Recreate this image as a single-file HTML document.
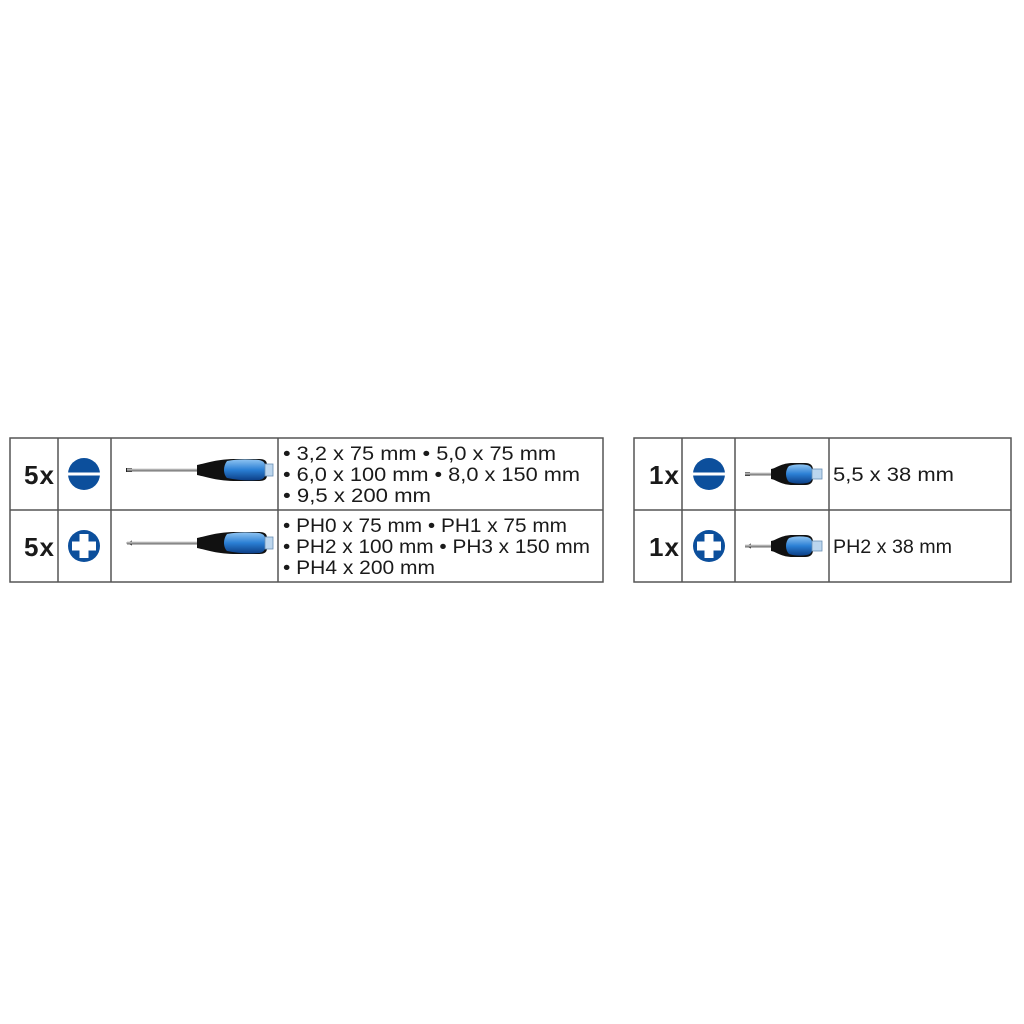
<!DOCTYPE html>
<html><head><meta charset="utf-8"><style>
html,body{margin:0;padding:0;background:#fff;}
svg{display:block;}
text{font-family:"Liberation Sans",sans-serif;fill:#1a1a1a;}
</style></head><body>
<svg width="1024" height="1024" viewBox="0 0 1024 1024" xmlns="http://www.w3.org/2000/svg">
<defs>
<linearGradient id="bl" x1="0" y1="0" x2="0" y2="1"><stop offset="0" stop-color="#8fc4f2"/><stop offset="0.5" stop-color="#2b7fd4"/><stop offset="1" stop-color="#0c3f86"/></linearGradient>
<linearGradient id="st" x1="0" y1="0" x2="0" y2="1"><stop offset="0" stop-color="#ddd"/><stop offset="0.5" stop-color="#999"/><stop offset="1" stop-color="#666"/></linearGradient>
<g id="sd">
<rect x="0" y="-1.5" width="72" height="3" fill="url(#st)"/>
<path d="M70,-5 C80,-7 90,-11 110,-11 L132,-11 C138,-11 140,-9 140,-5 L140,5 C140,9 138,11 132,11 L110,11 C90,11 80,7 70,5 Z" fill="#111"/>
<path d="M100,-9 C110,-11 120,-11 132,-10 C137,-9 138,-7 138,-4 L138,4 C138,7 137,9 132,10 C120,11 110,10 100,8 C96,4 96,-4 100,-9 Z" fill="url(#bl)"/>
<rect x="138" y="-6" width="8" height="12" fill="#bcd6ee" stroke="#6a8fb5" stroke-width="0.8"/>
</g>
<g id="sds">
<rect x="0" y="-1.5" width="28" height="3" fill="url(#st)"/>
<path d="M26,-5 C32,-6 36,-11 48,-11 L60,-11 C66,-11 68,-8 68,-4 L68,4 C68,8 66,11 60,11 L48,11 C36,11 32,6 26,5 Z" fill="#111"/>
<path d="M44,-8 C50,-10 56,-10 62,-9 C66,-8 67,-6 67,-3 L67,3 C67,6 66,8 62,9 C56,10 50,10 44,8 C40,4 40,-4 44,-8 Z" fill="url(#bl)"/>
<rect x="67" y="-5" width="10" height="10" fill="#bcd6ee" stroke="#6a8fb5" stroke-width="0.8"/>
</g>
</defs>
<g fill="none" stroke="#555" stroke-width="1.5">
<rect x="10" y="438" width="593" height="144"/>
<line x1="10" y1="510" x2="603" y2="510"/>
<line x1="58" y1="438" x2="58" y2="582"/>
<line x1="111" y1="438" x2="111" y2="582"/>
<line x1="278" y1="438" x2="278" y2="582"/>
<rect x="634" y="438" width="377" height="144"/>
<line x1="634" y1="510" x2="1011" y2="510"/>
<line x1="682" y1="438" x2="682" y2="582"/>
<line x1="735" y1="438" x2="735" y2="582"/>
<line x1="829" y1="438" x2="829" y2="582"/>
</g>
<g font-weight="bold" font-size="26">
<text x="24" y="484" textLength="30">5x</text><text x="24" y="556" textLength="30">5x</text>
<text x="649" y="484" textLength="30">1x</text><text x="649" y="556" textLength="30">1x</text>
</g>
<g fill="#0c4f9c">
<circle cx="84" cy="474" r="16"/><circle cx="709" cy="474" r="16"/>
<circle cx="84" cy="546" r="16"/><circle cx="709" cy="546" r="16"/>
</g>
<rect x="66" y="472.5" width="36" height="3" fill="#fff"/>
<rect x="691" y="472.5" width="36" height="3" fill="#fff"/>
<path d="M79.5,534 h9 v7.5 h7.5 v9 h-7.5 v7.5 h-9 v-7.5 h-7.5 v-9 h7.5 z" fill="#fff"/>
<path d="M704.5,534 h9 v7.5 h7.5 v9 h-7.5 v7.5 h-9 v-7.5 h-7.5 v-9 h7.5 z" fill="#fff"/>
<rect x="126" y="468" width="6" height="4" fill="#222"/>
<use href="#sd" x="127" y="470"/>
<path d="M126,543 l6,-2.5 v5 z" fill="#222"/>
<use href="#sd" x="127" y="543"/>
<rect x="745" y="472" width="5" height="4" fill="#222"/>
<use href="#sds" x="745" y="474"/>
<path d="M745,546 l6,-2.5 v5 z" fill="#222"/>
<use href="#sds" x="745" y="546"/>
<g font-size="19">
<text x="283" y="460" textLength="273" lengthAdjust="spacingAndGlyphs">• 3,2 x 75 mm • 5,0 x 75 mm</text>
<text x="283" y="481" textLength="297" lengthAdjust="spacingAndGlyphs">• 6,0 x 100 mm • 8,0 x 150 mm</text>
<text x="283" y="502" textLength="148" lengthAdjust="spacingAndGlyphs">• 9,5 x 200 mm</text>
<text x="283" y="532" textLength="284" lengthAdjust="spacingAndGlyphs">• PH0 x 75 mm • PH1 x 75 mm</text>
<text x="283" y="553" textLength="307" lengthAdjust="spacingAndGlyphs">• PH2 x 100 mm • PH3 x 150 mm</text>
<text x="283" y="574" textLength="152" lengthAdjust="spacingAndGlyphs">• PH4 x 200 mm</text>
<text x="833" y="481" textLength="121" lengthAdjust="spacingAndGlyphs">5,5 x 38 mm</text>
<text x="833" y="553" textLength="119" lengthAdjust="spacingAndGlyphs">PH2 x 38 mm</text>
</g>
</svg>
</body></html>
